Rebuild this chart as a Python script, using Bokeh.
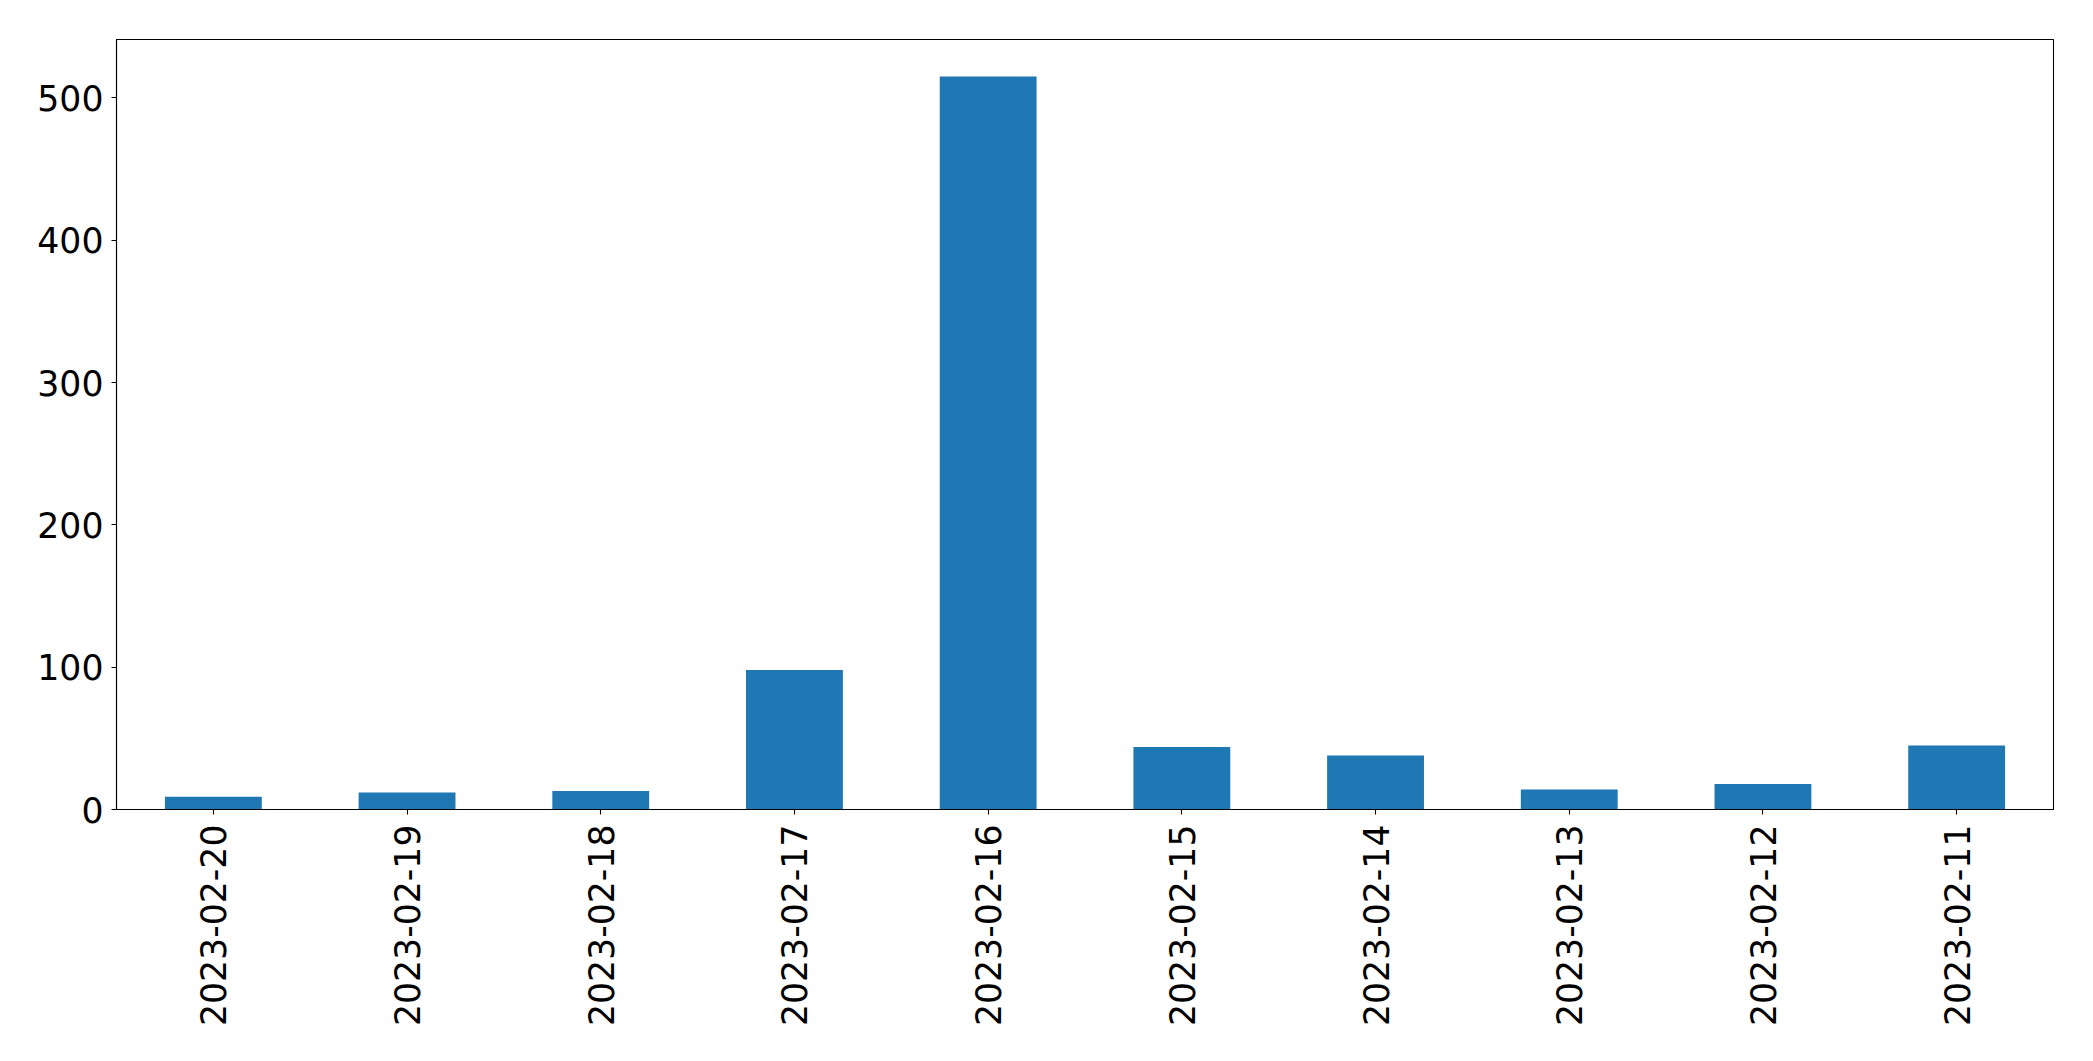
import math
from bokeh.plotting import figure
from bokeh.models import Range1d, FactorRange, FixedTicker, ColumnDataSource
from bokeh.embed import file_html
from bokeh.resources import INLINE

dates = ["2023-02-20", "2023-02-19", "2023-02-18", "2023-02-17", "2023-02-16",
         "2023-02-15", "2023-02-14", "2023-02-13", "2023-02-12", "2023-02-11"]
counts = [9, 12, 13, 98, 515, 44, 38, 14, 18, 45]
y_ticks = [0, 100, 200, 300, 400, 500]

source = ColumnDataSource(data=dict(date=dates, count=counts))

p = figure(
    width=2077, height=1045,
    x_range=FactorRange(factors=dates, range_padding=0),
    y_range=Range1d(0, 541),
    output_backend="svg", toolbar_location=None,
    min_border_left=116, min_border_top=39, min_border_right=24, min_border_bottom=236,
)
p.vbar(x="date", top="count", width=0.5, source=source,
       fill_color="#1f77b4", line_color=None)

p.xgrid.visible = False
p.ygrid.visible = False
p.outline_line_color = "black"
p.outline_line_width = 1.1
p.background_fill_color = "white"
p.border_fill_color = "white"

font = "DejaVu Sans"
for ax in (p.xaxis[0], p.yaxis[0]):
    ax.major_label_text_font = font
    ax.major_label_text_font_size = "34.7px"
    ax.major_label_text_color = "black"
    ax.axis_line_color = "black"
    ax.axis_line_width = 1.1
    ax.major_tick_line_color = "black"
    ax.major_tick_line_width = 1.1
    ax.major_tick_out = 5
    ax.major_tick_in = 0
    ax.minor_tick_line_color = None

p.yaxis[0].ticker = FixedTicker(ticks=y_ticks)
p.yaxis[0].major_label_standoff = 8
p.xaxis[0].major_label_orientation = math.pi / 2
p.xaxis[0].major_label_standoff = 10

open("out.html", "w").write(file_html(p, INLINE))
